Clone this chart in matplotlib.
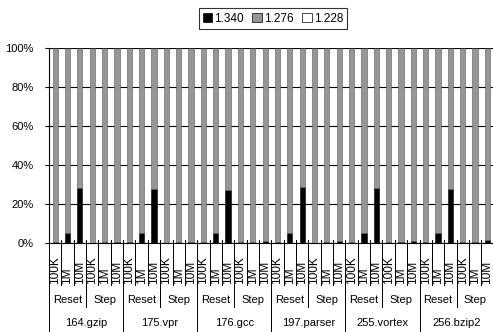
import matplotlib.pyplot as plt
from matplotlib.patches import Patch
from matplotlib.lines import Line2D

plt.rcParams['font.family'] = ['Liberation Sans', 'DejaVu Sans']

benchmarks = ['164.gzip', '175.vpr', '176.gcc', '197.parser', '255.vortex', '256.bzip2']
modes = ['Reset', 'Step']
sizes = ['100K', '1M', '10M']

# share (%) of each series, 36 bars: benchmark x mode x size
s1340 = [0.5, 5.3, 28.4, 0.2, 0.3, 0.6,
         0.5, 5.3, 27.7, 0.2, 0.3, 0.6,
         0.5, 5.3, 27.0, 0.3, 0.5, 1.0,
         0.3, 5.0, 28.9, 0.2, 0.5, 0.8,
         0.5, 5.3, 28.0, 0.3, 0.5, 1.0,
         0.5, 5.3, 27.7, 0.3, 0.5, 1.5]
s1228 = [0.0] * 36
s1276 = [100 - a - b for a, b in zip(s1340, s1228)]

gray = '#969696'
n = len(s1340)
x = list(range(n))

fig = plt.figure(figsize=(4.93, 3.32), dpi=100)
ax = fig.add_axes([49 / 493, 89 / 332, 36 * 12.35 / 493, 195 / 332])

ax.bar(x, s1340, width=0.42, color='black', edgecolor='black', linewidth=0.4, zorder=2)
ax.bar(x, s1276, width=0.42, bottom=s1340, color=gray, edgecolor='#5a5a5a', linewidth=0.4, zorder=2)
bot2 = [a + b for a, b in zip(s1340, s1276)]
ax.bar(x, s1228, width=0.42, bottom=bot2, color='white', edgecolor='black', linewidth=0.4, zorder=2)

ax.set_xlim(-0.5, n - 0.5)
ax.set_ylim(0, 100)
ax.set_yticks(range(0, 101, 20))
ax.set_yticklabels([f'{v}%' for v in range(0, 101, 20)], fontsize=8)
ax.yaxis.grid(True, color='black', linewidth=0.8, zorder=0)
ax.set_axisbelow(True)
for s in ['top', 'right']:
    ax.spines[s].set_visible(False)
ax.spines['left'].set_linewidth(0.8)
ax.spines['bottom'].set_linewidth(0.8)
ax.tick_params(axis='y', length=3, width=0.8, pad=8)
ax.set_xticks([])

trans = ax.get_xaxis_transform()

# separators between the size labels
for i in range(n + 1):
    xb = i - 0.5
    if i % 6 == 0:
        y1 = -0.5
    elif i % 3 == 0:
        y1 = -0.33
    else:
        y1 = -0.215
    ax.add_line(Line2D([xb, xb], [0.015, y1], transform=trans, color='black',
                       linewidth=0.7, clip_on=False))

for i in range(n):
    ax.text(i, -0.212, sizes[i % 3], rotation=90, ha='center', va='bottom',
            fontsize=8.6, transform=trans, clip_on=False)

# mode and benchmark labels
for g in range(len(benchmarks)):
    for m in range(2):
        c = g * 6 + m * 3 + 1
        ax.text(c, -0.29, modes[m], ha='center', va='center', fontsize=8,
                transform=trans, clip_on=False)
    ax.text(g * 6 + 2.5, -0.41, benchmarks[g], ha='center', va='center', fontsize=8,
            transform=trans, clip_on=False)

handles = [Patch(facecolor='black', edgecolor='black', linewidth=0.5),
           Patch(facecolor=gray, edgecolor='black', linewidth=0.5),
           Patch(facecolor='white', edgecolor='black', linewidth=0.5)]
leg = fig.legend(handles, ['1.340', '1.276', '1.228'], loc='center',
                 bbox_to_anchor=(273 / 493, 1 - 18.5 / 332), ncol=3, fontsize=8.5,
                 frameon=True, fancybox=False, handlelength=0.8, handleheight=0.8,
                 handletextpad=0.2, columnspacing=0.7, borderpad=0.35)
leg.get_frame().set_edgecolor('black')
leg.get_frame().set_linewidth(0.8)

fig.savefig('out.png', dpi=100)
